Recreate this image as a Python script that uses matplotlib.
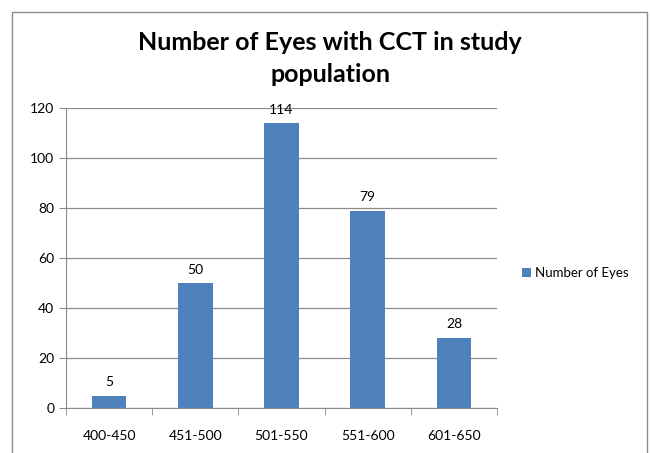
import numpy as np
import matplotlib.pyplot as plt
from matplotlib.patches import Rectangle

# data
categories = ["400-450", "451-500", "501-550", "551-600", "601-650"]
eyes = [5, 50, 114, 79, 28]
yticks = [0, 20, 40, 60, 80, 100, 120]

plt.rcParams['font.family'] = ['Lato', 'DejaVu Sans']

fig = plt.figure(figsize=(6.5, 4.53), dpi=100)
# outer chart frame
fig.patches.append(Rectangle((12 / 650, -0.05), (647 - 12) / 650, 1.05 - 12 / 453,
                             transform=fig.transFigure, fill=False,
                             edgecolor="#8c8c8c", linewidth=1.0))

ax = fig.add_axes([66 / 650, 1 - 408 / 453, (497 - 66) / 650, (408 - 108) / 453])
x = np.arange(len(categories))
bars = ax.bar(x, eyes, width=0.4, color="#4f81bd", label="Number of Eyes", zorder=3)

for xi, v in zip(x, eyes):
    ax.text(xi, v + 3, str(v), ha="center", va="bottom", fontsize=10)

ax.set_xlim(-0.5, len(categories) - 0.5)
ax.set_ylim(0, 120)
ax.set_yticks(yticks)
ax.yaxis.grid(True, color="#8c8c8c", linewidth=0.9, zorder=0)
ax.set_xticks(x)
ax.set_xticklabels(categories, fontsize=10)
ax.set_xticks(np.arange(-0.5, len(categories)), minor=True)
ax.tick_params(axis="x", which="major", length=0, pad=16)
ax.tick_params(axis="x", which="minor", length=5, color="#8c8c8c")
ax.tick_params(axis="y", length=5, color="#8c8c8c", labelsize=10)

for side in ["top", "right"]:
    ax.spines[side].set_visible(False)
ax.spines["left"].set_color("#8c8c8c")
ax.spines["bottom"].set_color("#8c8c8c")

fig.text(330 / 650, 1 - 42 / 453, "Number of Eyes with CCT in study", ha="center",
         va="center", fontsize=18, fontweight="bold")
fig.text(330 / 650, 1 - 74 / 453, "population", ha="center", va="center",
         fontsize=18, fontweight="bold")

fig.legend(loc="center left", bbox_to_anchor=(510 / 650, 1 - 273 / 453), frameon=False,
           fontsize=9.5, handlelength=0.7, handleheight=0.7, handletextpad=0.3)

fig.savefig("out.png", dpi=100)
